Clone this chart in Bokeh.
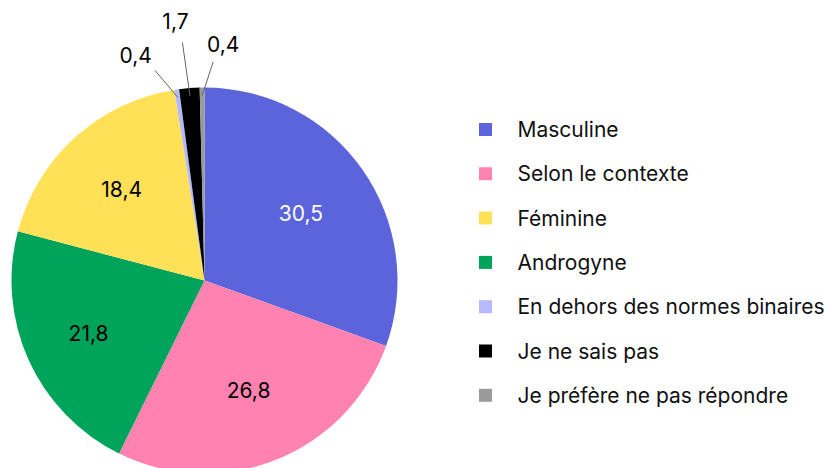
import math
from bokeh.plotting import figure
from bokeh.models import Range1d, ColumnDataSource
from bokeh.core.properties import value
from bokeh.embed import file_html
from bokeh.resources import INLINE

# ---- data (pie order, clockwise from 12 o'clock) ----
pie_labels = ["Masculine", "Selon le contexte", "Androgyne", "Féminine",
              "En dehors des normes binaires", "Je ne sais pas", "Je préfère ne pas répondre"]
pie_values = [30.5, 26.8, 21.8, 18.4, 0.4, 1.7, 0.4]
pie_colors = ["#5c64db", "#ff82b0", "#00a35a", "#ffe157", "#b6b9fc", "#000000", "#9a9a9a"]

legend_order = ["Masculine", "Selon le contexte", "Féminine", "Androgyne",
                "En dehors des normes binaires", "Je ne sais pas", "Je préfère ne pas répondre"]

FONT = "Inter"
FS = "21px"

W, H = 825, 468
p = figure(width=W, height=H, x_range=Range1d(0, W), y_range=Range1d(0, H),
           x_axis_location=None, y_axis_location=None, toolbar_location=None,
           output_backend="svg", min_border=0, outline_line_color=None)
p.grid.visible = False
p.background_fill_color = "white"
p.border_fill_color = "white"

cx, cy, R = 204, 188, 193
total = sum(pie_values)
starts, ends, mids = [], [], []
cum = 0.0
for v in pie_values:
    a0 = math.pi / 2 - 2 * math.pi * cum / total
    cum += v
    a1 = math.pi / 2 - 2 * math.pi * cum / total
    starts.append(a0); ends.append(a1); mids.append((a0 + a1) / 2)

src = ColumnDataSource(dict(start=starts, end=ends, color=pie_colors))
p.wedge(x=cx, y=cy, radius=R, start_angle="start", end_angle="end",
        direction="clock", fill_color="color", line_color=None, source=src)

def fmt(v):
    return ("%.1f" % v).replace(".", ",")

# inside labels (layout: radius fraction per slice)
in_r = {0: 0.61, 1: 0.61, 2: 0.66, 3: 0.64}
in_x, in_y, in_t, in_c = [], [], [], []
for i, v in enumerate(pie_values):
    if v >= 5:
        r = in_r.get(i, 0.62) * R
        in_x.append(cx + r * math.cos(mids[i]))
        in_y.append(cy + r * math.sin(mids[i]))
        in_t.append(fmt(v))
        in_c.append("#ffffff" if i == 0 else "#000000")
p.text(x=in_x, y=in_y, text=in_t, text_color=in_c, text_align="center",
       text_baseline="middle", text_font=value(FONT), text_font_size=FS)

# outside labels with leader lines (layout: angle shift deg, outer radius, text dx, dy, align)
small_layout = {4: (-5.0, 216, -3, 15, "right"), 5: (-0.8, 239, -7, 22, "center"), 6: (3.0, 219, 10, 18, "center")}
sx0, sy0, sx1, sy1, tx, ty, tt, ta = [], [], [], [], [], [], [], []
for i, (dang, rout, dx, dy, al) in small_layout.items():
    a = mids[i]
    r_in = R - 8
    sx0.append(cx + r_in * math.cos(a)); sy0.append(cy + r_in * math.sin(a))
    ao = a - math.radians(dang)
    ox = cx + rout * math.cos(ao); oy = cy + rout * math.sin(ao)
    sx1.append(ox); sy1.append(oy)
    tx.append(ox + dx); ty.append(oy + dy); tt.append(fmt(pie_values[i])); ta.append(al)
p.segment(x0=sx0, y0=sy0, x1=sx1, y1=sy1, line_color="#666666", line_width=1)
for x, y, t, al in zip(tx, ty, tt, ta):
    p.text(x=[x], y=[y], text=[t], text_color="#000000", text_align=al,
           text_baseline="alphabetic", text_font=value(FONT), text_font_size=FS)

# legend
lg_x, lg_y0, lg_dy = 485, 339, 44.3
cmap = dict(zip(pie_labels, pie_colors))
ly = [lg_y0 - k * lg_dy for k in range(len(legend_order))]
p.rect(x=[lg_x] * len(legend_order), y=ly, width=13, height=13,
       width_units="screen", height_units="screen",
       fill_color=[cmap[l] for l in legend_order], line_color=None)
p.text(x=[lg_x + 32] * len(legend_order), y=ly, text=legend_order, text_color="#111111",
       text_align="left", text_baseline="middle", text_font=value(FONT), text_font_size=FS)

open("out.html", "w").write(file_html(p, INLINE))
